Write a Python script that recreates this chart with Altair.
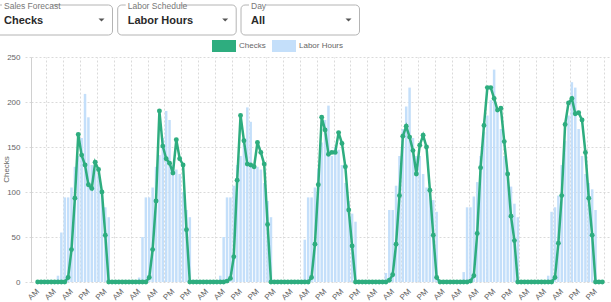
import json
import altair as alt
import pandas as pd

# ---------------- data ----------------
checks = (
    [0, 0, 0, 0, 0, 0, 0, 0, 0, 5, 36, 93, 164, 141, 130, 108, 104, 133, 125, 100, 52, 0, 0, 0]
    + [0, 0, 0, 0, 0, 0, 0, 0, 0, 5, 36, 90, 190, 151, 137, 132, 121, 158, 137, 130, 58, 0, 0, 0]
    + [0, 0, 0, 0, 0, 0, 0, 0, 1, 4, 28, 113, 185, 157, 131, 130, 128, 155, 144, 131, 64, 0, 0, 0]
    + [0, 0, 0, 0, 0, 0, 0, 0, 0, 5, 42, 108, 183, 169, 142, 144, 144, 166, 154, 128, 80, 40, 0, 0]
    + [0, 0, 0, 0, 0, 0, 0, 0, 2, 8, 42, 96, 162, 173, 161, 146, 120, 152, 163, 150, 102, 52, 5, 0]
    + [0, 0, 0, 0, 0, 0, 0, 0, 1, 7, 54, 127, 174, 216, 216, 204, 191, 193, 156, 120, 73, 46, 0, 0]
    + [0, 0, 0, 0, 0, 0, 0, 0, 0, 5, 43, 96, 175, 199, 204, 187, 188, 180, 144, 93, 52, 0, 0, 0]
)
labor = (
    [0, 0, 0, 0, 0, 0, 7, 55, 94, 94, 105, 128, 140, 160, 209, 183, 130, 125, 120, 100, 83, 72, 0, 0]
    + [0, 0, 0, 0, 0, 0, 5, 50, 94, 94, 105, 128, 141, 160, 190, 180, 130, 125, 120, 100, 80, 72, 0, 0]
    + [0, 0, 0, 0, 0, 0, 7, 50, 94, 94, 107, 130, 140, 160, 194, 178, 130, 128, 125, 110, 90, 72, 0, 0]
    + [0, 0, 0, 0, 0, 0, 0, 47, 94, 94, 105, 126, 155, 180, 196, 140, 150, 147, 130, 110, 90, 76, 67, 0]
    + [0, 0, 0, 0, 0, 0, 0, 10, 80, 80, 107, 140, 170, 195, 216, 160, 140, 140, 120, 105, 100, 91, 78, 0]
    + [0, 0, 0, 0, 0, 0, 11, 83, 83, 95, 111, 140, 167, 185, 202, 236, 193, 170, 140, 120, 106, 87, 72, 0]
    + [0, 0, 0, 0, 0, 0, 0, 7, 78, 83, 96, 130, 157, 185, 222, 216, 170, 140, 120, 110, 103, 80, 0, 0]
)
tick_labels = ["AM", "AM", "AM", "PM", "PM", "AM", "AM", "AM", "PM", "PM",
               "AM", "AM", "PM", "PM", "PM", "AM", "AM", "PM", "PM", "PM",
               "AM", "AM", "PM", "PM", "AM", "AM", "AM", "PM", "PM", "AM",
               "AM", "AM", "PM", "PM"]
series_names = ["Checks", "Labor Hours"]
dropdown_titles = ["Sales Forecast", "Labor Schedule", "Day"]
dropdown_values = ["Checks", "Labor Hours", "All"]
y_ticks = [0, 50, 100, 150, 200, 250]

# ---------------- style / layout ----------------
GREEN = "#2EAD7F"
BLUE = "#C4DFFA"
GRID = "#DADADA"
FONT = "Liberation Sans Narrow, Liberation Sans, Arial"
PAD_L, PAD_T = 31, 57
W, H = 578, 225
N = len(checks)

df = pd.DataFrame({
    "idx": list(range(N)),
    "checks": checks,
    "labor": labor,
    "series": ["Labor Hours"] * N,
})

xscale = alt.Scale(domain=[-0.5, N - 0.5], nice=False, zero=False)
yscale = alt.Scale(domain=[0, 250], nice=False)

label_expr = json.dumps(tick_labels) + "[round(datum.value / 5)]"

y_axis = alt.Axis(
    values=y_ticks, grid=True, gridColor=GRID, gridDash=[2, 2],
    tickSize=8, tickColor=GRID, tickDash=[2, 2],
    domain=True, domainColor="#D0D0D0",
    labelFont=FONT, labelFontSize=8, labelColor="#666", labelPadding=3,
    title="Checks", titleFont=FONT, titleFontSize=8, titleColor="#666",
    titleFontWeight="normal", titleX=-23, titleY=112, titleAlign="center",
    titleBaseline="alphabetic", titleAngle=270,
)

bars = alt.Chart(df).mark_bar(width=2.5).encode(
    x=alt.X("idx:Q", scale=xscale, title=None,
            axis=alt.Axis(values=list(range(0, N, 5)), labelExpr=label_expr,
                          grid=False, ticks=False, domain=False,
                          labelAngle=-45, labelAlign="right", labelBaseline="middle",
                          labelPadding=8, labelFont=FONT, labelFontSize=8,
                          labelColor="#666")),
    y=alt.Y("labor:Q", scale=yscale, axis=y_axis),
    color=alt.Color("series:N",
                    scale=alt.Scale(domain=series_names, range=[GREEN, BLUE]),
                    legend=alt.Legend(
                        orient="none", legendX=181, legendY=-17, direction="horizontal",
                        title=None, symbolType="M-1,-1H3V1H-1Z", symbolSize=144,
                        symbolStrokeWidth=0, symbolOpacity=1, labelOffset=15,
                        columnPadding=6, padding=0, labelFont=FONT, labelFontSize=8,
                        labelColor="#666")),
)

line = alt.Chart(df).mark_line(
    color=GREEN, strokeWidth=2.5,
    point=alt.OverlayMarkDef(filled=True, size=24, color=GREEN, opacity=1),
).encode(
    x=alt.X("idx:Q", scale=xscale, title=None,
            axis=alt.Axis(orient="top", values=[v + 2.5 for v in range(0, N, 5)],
                          grid=True, gridColor=GRID, gridDash=[2, 2],
                          labels=False, ticks=False, domain=False)),
    y=alt.Y("checks:Q", scale=yscale, axis=y_axis),
)

# ---------------- dropdown controls (decoration above the chart) ----------------
one = alt.Data(values=[{"a": 1}])
box_left = [-6, 117.7, 241]
box_w = 118.5
title_w = [46, 49, 13]
deco = []
for i in range(3):
    lx = box_left[i] - PAD_L
    deco.append(alt.Chart(one).mark_rect(
        fill="white", stroke="#B4B4B4", strokeWidth=1, cornerRadius=4).encode(
        x=alt.value(lx), x2=alt.value(lx + box_w),
        y=alt.value(5 - PAD_T), y2=alt.value(35 - PAD_T)))
    deco.append(alt.Chart(one).mark_rect(fill="white").encode(
        x=alt.value(lx + 8), x2=alt.value(lx + 12 + title_w[i]),
        y=alt.value(3 - PAD_T), y2=alt.value(8 - PAD_T)))
    deco.append(alt.Chart(one).mark_text(
        text=dropdown_titles[i], align="left", baseline="middle", font=FONT,
        fontSize=8.5, color="#777").encode(
        x=alt.value(lx + 10), y=alt.value(6 - PAD_T)))
    deco.append(alt.Chart(one).mark_text(
        text=dropdown_values[i], align="left", baseline="middle", font=FONT,
        fontSize=11, fontWeight="bold", color="#2A2A2A").encode(
        x=alt.value(lx + 10), y=alt.value(20.5 - PAD_T)))
    deco.append(alt.Chart(one).mark_point(
        shape="M-1,-0.5L1,-0.5L0,0.5Z", size=36, filled=True, color="#555",
        opacity=1).encode(
        x=alt.value(lx + box_w - 11), y=alt.value(20 - PAD_T)))

chart = alt.layer(bars, line, *deco).resolve_axis(x="independent").properties(
    width=W, height=H,
    autosize=alt.AutoSizeParams(type="none"),
    padding={"left": PAD_L, "top": PAD_T, "right": 611 - PAD_L - W, "bottom": 302 - PAD_T - H},
    background="white",
).configure_view(stroke=None)

chart.save("out.html", embed_options={"renderer": "svg", "actions": False})
